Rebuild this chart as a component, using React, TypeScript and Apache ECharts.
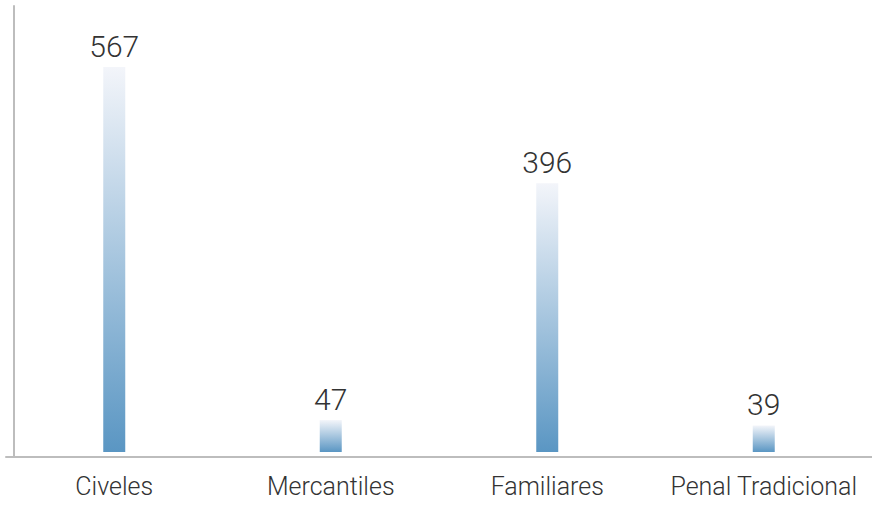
import React, { useEffect, useRef } from "react";
import * as echarts from "echarts";

const categories = ["Civeles", "Mercantiles", "Familiares", "Penal Tradicional"];
const values = [567, 47, 396, 39];

export default function App() {
  const ref = useRef<HTMLDivElement>(null);
  useEffect(() => {
    if (!ref.current) return;
    const chart = echarts.init(ref.current, null, { renderer: "svg" });
    const font = "Roboto, 'Noto Sans', sans-serif";
    chart.setOption({
      animation: false,
      backgroundColor: "#ffffff",
      grid: { left: 6, right: 0, top: 6, bottom: 53, containLabel: false },
      xAxis: {
        type: "category",
        data: categories,
        axisLine: { show: true, onZero: false, lineStyle: { color: "#bdbdbd", width: 2 } },
        axisTick: { show: false },
        axisLabel: {
          interval: 0,
          color: "#333",
          fontFamily: font,
          fontWeight: 300,
          fontSize: 25,
          margin: 17,
        },
        splitLine: { show: false },
      },
      yAxis: {
        type: "value",
        min: -7.4,
        max: 657,
        offset: -8,
        axisLine: { show: true, lineStyle: { color: "#bdbdbd", width: 2 } },
        axisTick: { show: false },
        axisLabel: { show: false },
        splitLine: { show: false },
      },
      series: [
        {
          type: "bar",
          data: values,
          barWidth: 22,
          itemStyle: {
            color: new echarts.graphic.LinearGradient(0, 0, 0, 1, [
              { offset: 0, color: "#f3f5fa" },
              { offset: 1, color: "#5a96c3" },
            ]),
          },
          label: {
            show: true,
            position: "top",
            distance: 6,
            color: "#333",
            fontFamily: font,
            fontWeight: 300,
            fontSize: 30,
          },
        },
      ],
    });
    return () => chart.dispose();
  }, []);
  return <div ref={ref} style={{ width: 872, height: 510, position: "absolute", left: 0, top: 0 }} />;
}
